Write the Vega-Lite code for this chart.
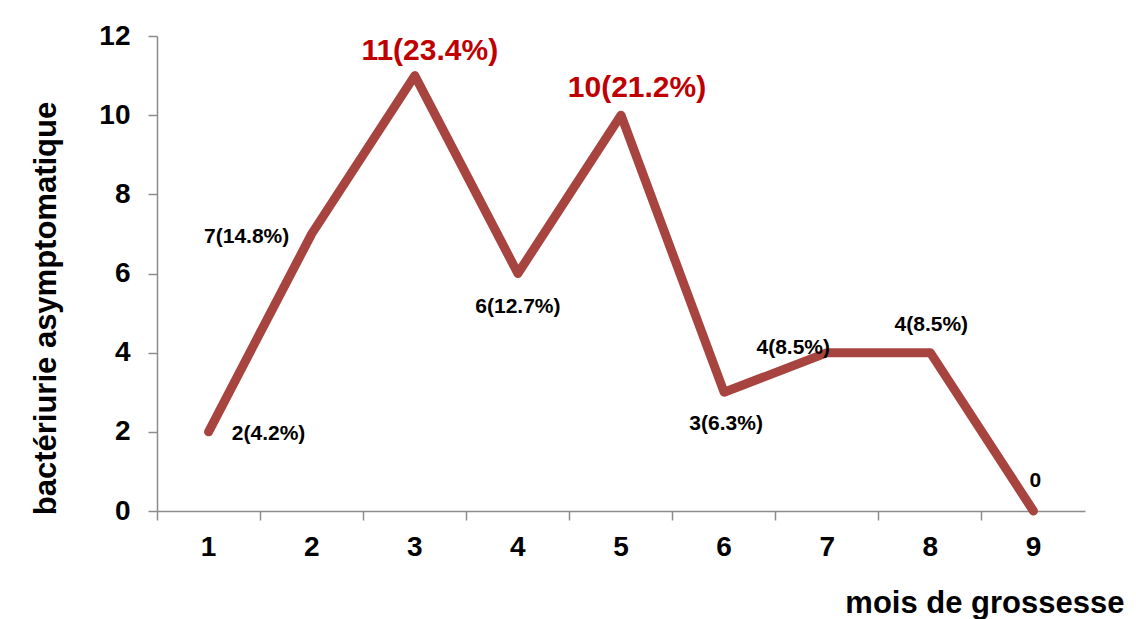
{
  "$schema": "https://vega.github.io/schema/vega-lite/v6.json",
  "width": 928,
  "height": 475,
  "autosize": {"type": "none"},
  "padding": {"left": 157, "top": 36, "right": 51, "bottom": 108},
  "background": "white",
  "config": {
    "view": {"stroke": null},
    "font": "Liberation Sans",
    "axis": {
      "domainColor": "#8c8c8c",
      "domainWidth": 1.5,
      "tickColor": "#8c8c8c",
      "tickWidth": 1.5,
      "tickSize": 9,
      "grid": false,
      "labelFont": "Liberation Sans",
      "labelFontWeight": "bold",
      "labelFontSize": 28,
      "labelColor": "#000000",
      "titleFont": "Liberation Sans",
      "titleFontWeight": "bold",
      "titleFontSize": 31,
      "titleColor": "#000000"
    }
  },
  "data": {
    "values": [
      {"mois": "1", "n": 2, "label": "2(4.2%)"},
      {"mois": "2", "n": 7, "label": "7(14.8%)"},
      {"mois": "3", "n": 11, "label": "11(23.4%)"},
      {"mois": "4", "n": 6, "label": "6(12.7%)"},
      {"mois": "5", "n": 10, "label": "10(21.2%)"},
      {"mois": "6", "n": 3, "label": "3(6.3%)"},
      {"mois": "7", "n": 4, "label": "4(8.5%)"},
      {"mois": "8", "n": 4, "label": "4(8.5%)"},
      {"mois": "9", "n": 0, "label": "0"}
    ]
  },
  "encoding": {
    "x": {
      "field": "mois",
      "type": "ordinal",
      "scale": {"type": "band", "paddingInner": 0, "paddingOuter": 0},
      "axis": {
        "bandPosition": 0,
        "labelAngle": 0,
        "labelBaseline": "middle",
        "labelPadding": 27,
        "title": "mois de grossesse",
        "titleAnchor": "end",
        "titleAlign": "right",
        "titleX": 967,
        "titleY": 92,
        "titleBaseline": "middle"
      }
    },
    "y": {
      "field": "n",
      "type": "quantitative",
      "scale": {"domain": [0, 12], "nice": false},
      "axis": {
        "values": [0, 2, 4, 6, 8, 10, 12],
        "labelPadding": 18,
        "title": "bactériurie asymptomatique",
        "titleX": -111,
        "titleY": 272,
        "titleAnchor": "middle",
        "titleBaseline": "middle"
      }
    }
  },
  "layer": [
    {
      "mark": {"type": "line", "color": "#A8443F", "strokeWidth": 9, "strokeJoin": "round", "strokeCap": "round"}
    },
    {
      "transform": [{"filter": "datum.mois == '1'"}],
      "mark": {"type": "text", "fontSize": 21, "fontWeight": "bold", "color": "#000000", "dx": 60, "dy": 2},
      "encoding": {"text": {"field": "label"}}
    },
    {
      "transform": [{"filter": "datum.mois == '2'"}],
      "mark": {"type": "text", "fontSize": 21, "fontWeight": "bold", "color": "#000000", "dx": -65, "dy": 3},
      "encoding": {"text": {"field": "label"}}
    },
    {
      "transform": [{"filter": "datum.mois == '3'"}],
      "mark": {"type": "text", "fontSize": 30, "fontWeight": "bold", "color": "#C00000", "dx": 15, "dy": -25},
      "encoding": {"text": {"field": "label"}}
    },
    {
      "transform": [{"filter": "datum.mois == '4'"}],
      "mark": {"type": "text", "fontSize": 21, "fontWeight": "bold", "color": "#000000", "dx": 0, "dy": 33},
      "encoding": {"text": {"field": "label"}}
    },
    {
      "transform": [{"filter": "datum.mois == '5'"}],
      "mark": {"type": "text", "fontSize": 30, "fontWeight": "bold", "color": "#C00000", "dx": 16, "dy": -27},
      "encoding": {"text": {"field": "label"}}
    },
    {
      "transform": [{"filter": "datum.mois == '6'"}],
      "mark": {"type": "text", "fontSize": 21, "fontWeight": "bold", "color": "#000000", "dx": 2, "dy": 32},
      "encoding": {"text": {"field": "label"}}
    },
    {
      "transform": [{"filter": "datum.mois == '7'"}],
      "mark": {"type": "text", "fontSize": 21, "fontWeight": "bold", "color": "#000000", "dx": -34, "dy": -5},
      "encoding": {"text": {"field": "label"}}
    },
    {
      "transform": [{"filter": "datum.mois == '8'"}],
      "mark": {"type": "text", "fontSize": 21, "fontWeight": "bold", "color": "#000000", "dx": 1, "dy": -28},
      "encoding": {"text": {"field": "label"}}
    },
    {
      "transform": [{"filter": "datum.mois == '9'"}],
      "mark": {"type": "text", "fontSize": 21, "fontWeight": "bold", "color": "#000000", "dx": 2, "dy": -30},
      "encoding": {"text": {"field": "label"}}
    }
  ]
}
